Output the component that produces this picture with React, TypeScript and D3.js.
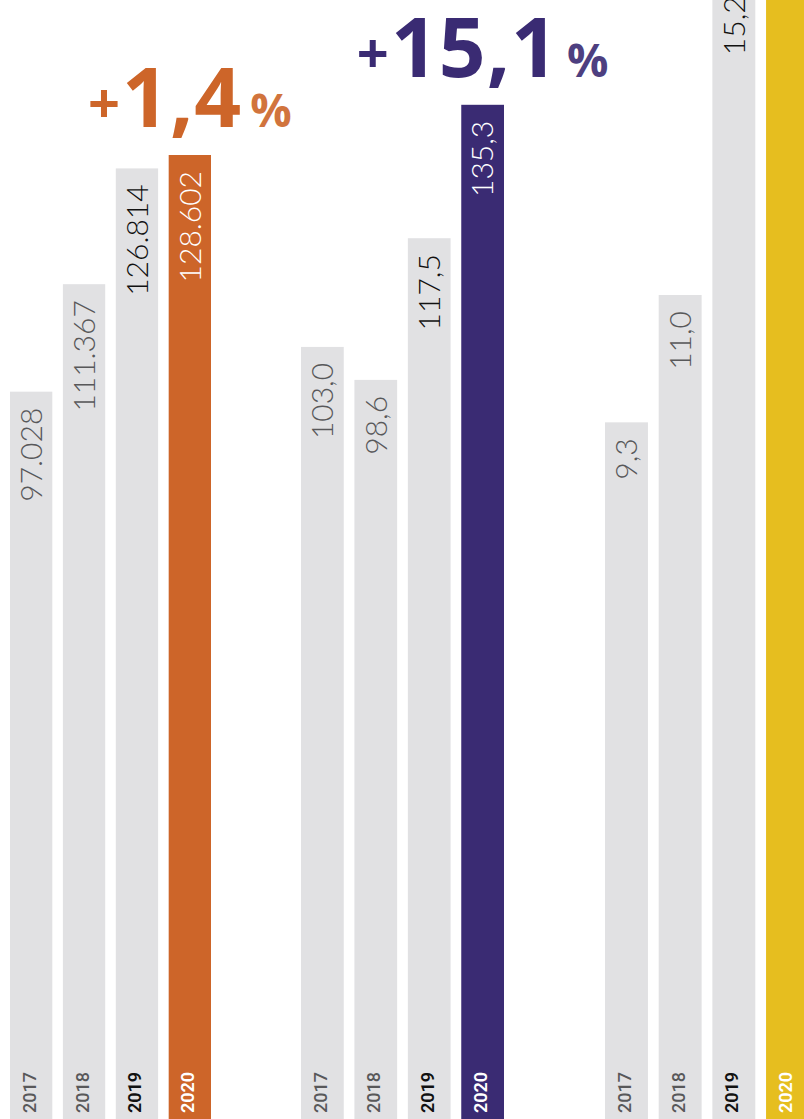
import * as d3 from "d3";

// years shown on every group
const years = ["2017", "2018", "2019", "2020"];

// group 1 (thousand)
const visitors = [97.028, 111.367, 126.814, 128.602];
const visitorLabels = ["97.028", "111.367", "126.814", "128.602"];

// group 2
const revenue = [103.0, 98.6, 117.5, 135.3];
const revenueLabels = ["103,0", "98,6", "117,5", "135,3"];

// group 3 (2020 runs off the top of the crop)
const third = [9.3, 11.0, 15.2, 17.6];
const thirdLabels = ["9,3", "11,0", "15,2", "17,6"];

const changeLabels = ["+1,4", "+15,1", "+15,8"];
const accents = ["#cd6529", "#3a2b73", "#e6be1f"];

const W = 804;
const H = 1119;

const groupX = [
  [10, 211],
  [301, 504],
  [605, 809],
];

const grey = "#e1e1e3";
const textCol = ["#58585a", "#58585a", "#111111", "#ffffff"];

export default function App() {
  const yMain = d3.scaleLinear().domain([0, 128.602]).range([H, 155]);
  const yThird = d3.scaleLinear().domain([0, 11]).range([H, 295]);

  const groups = [
    { values: visitors, labels: visitorLabels, y: yMain },
    { values: revenue, labels: revenueLabels, y: yMain },
    { values: third, labels: thirdLabels, y: yThird },
  ];

  return (
    <svg
      width={W}
      height={H}
      style={{ position: "absolute", left: 0, top: 0, background: "#fff" }}
    >
      {groups.map((g, gi) => {
        const x = d3
          .scaleBand()
          .domain(years)
          .range(groupX[gi])
          .paddingInner(0.2);
        const bw = x.bandwidth();
        const lastTop = g.y(g.values[3]);
        const cx20 = x("2020")! + bw / 2;
        return (
          <g key={gi}>
            {years.map((yr, i) => {
              const x0 = x(yr)!;
              const top = g.y(g.values[i]);
              const cx = x0 + bw / 2;
              return (
                <g key={yr}>
                  <rect
                    x={x0}
                    y={top}
                    width={bw}
                    height={H - top}
                    fill={i === 3 ? accents[gi] : grey}
                  />
                  <text
                    transform={`translate(${cx},${top + 16}) rotate(-90)`}
                    textAnchor="end"
                    dy="0.36em"
                    fontFamily="Lato, 'Open Sans', sans-serif"
                    fontWeight={300}
                    fontSize={30}
                    fill={textCol[i]}
                  >
                    {g.labels[i]}
                  </text>
                  <text
                    transform={`translate(${cx - 2},${H - 6}) rotate(-90)`}
                    textAnchor="start"
                    dy="0.36em"
                    fontFamily="Roboto, sans-serif"
                    fontWeight={i >= 2 ? 600 : 500}
                    fontSize={18}
                    fill={textCol[i]}
                  >
                    {yr}
                  </text>
                </g>
              );
            })}
            <text
              x={cx20}
              y={lastTop - 28}
              textAnchor="middle"
              fontFamily="'Open Sans', sans-serif"
              fontWeight={700}
              fill={accents[gi]}
            >
              <tspan fontSize={56} dy={-4}>
                {changeLabels[gi].slice(0, 1)}
              </tspan>
              <tspan fontSize={82} dy={4} dx={2} letterSpacing={1}>
                {changeLabels[gi].slice(1)}
              </tspan>
              <tspan fontSize={46} dx={8} opacity={0.9}>
                %
              </tspan>
            </text>
          </g>
        );
      })}
    </svg>
  );
}
